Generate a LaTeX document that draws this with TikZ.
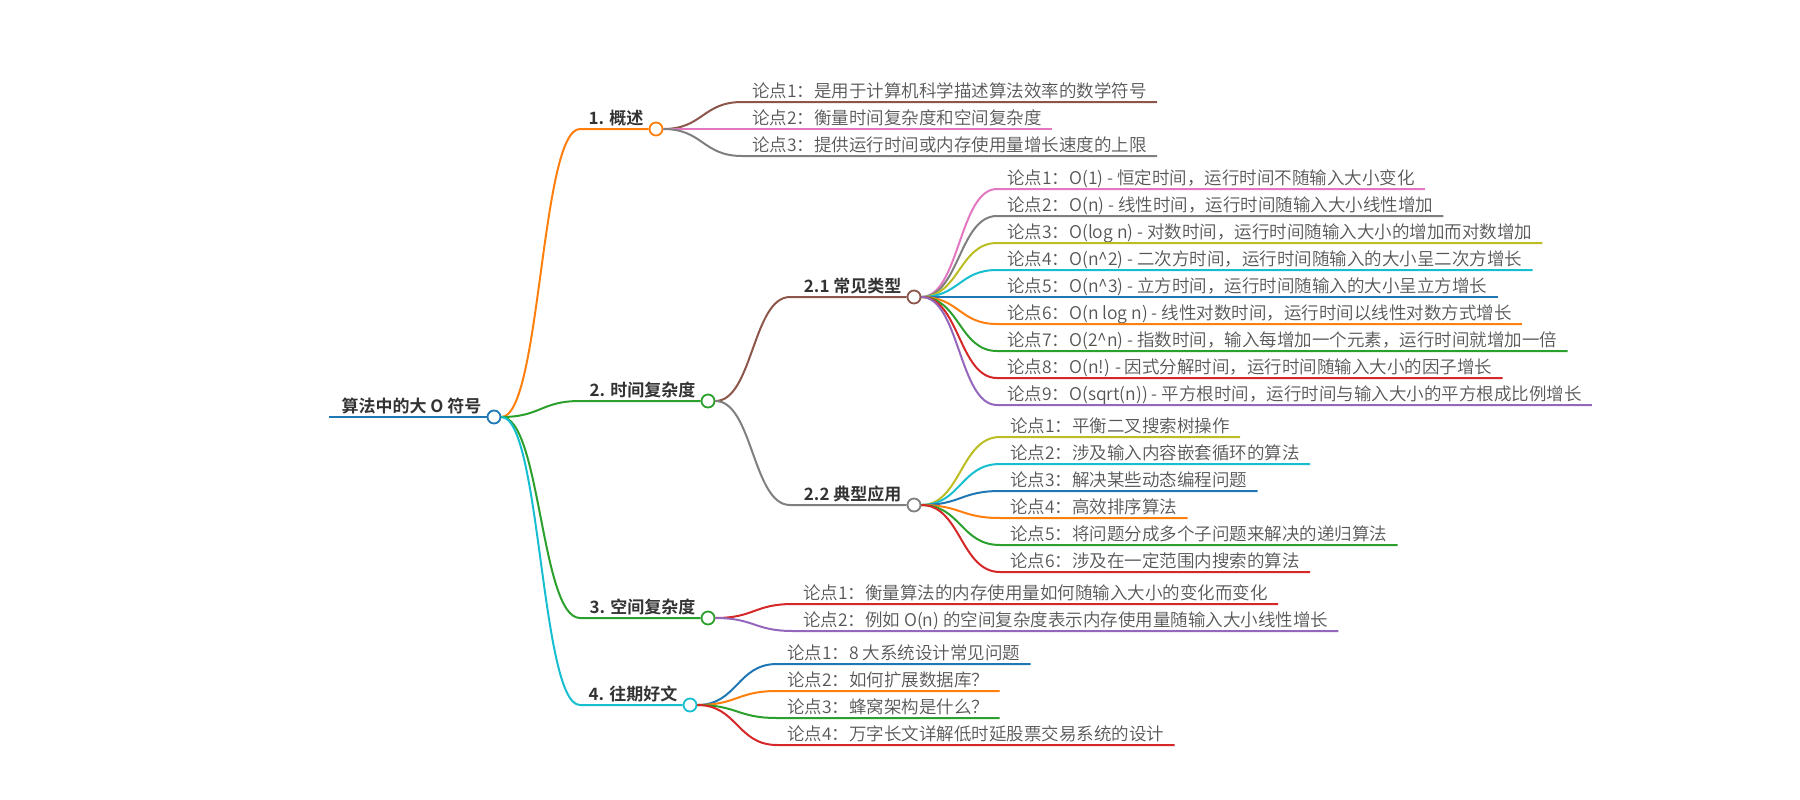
\documentclass[tikz,border=0pt]{standalone}
\usepackage{fontspec}
\setmainfont{Noto Sans CJK SC DemiLight}[BoldFont={Noto Sans CJK SC Bold}]
\usepackage{xcolor}
\usepackage{tikz}
\usetikzlibrary{calc}
\definecolor{cblue}{HTML}{1F77B4}
\definecolor{corange}{HTML}{FF7F0E}
\definecolor{cgreen}{HTML}{2CA02C}
\definecolor{cred}{HTML}{D62728}
\definecolor{cpurple}{HTML}{9467BD}
\definecolor{cbrown}{HTML}{8C564B}
\definecolor{cpink}{HTML}{E377C2}
\definecolor{cgray}{HTML}{7F7F7F}
\definecolor{colive}{HTML}{BCBD22}
\definecolor{ccyan}{HTML}{17BECF}
\definecolor{textdark}{HTML}{333333}
\definecolor{textgray}{HTML}{555555}
\tikzset{
    every node/.style={font=\fontsize{17.5}{20}\selectfont},
    dot/.style={circle, draw=#1, fill=white, line width=1.8pt, minimum size=13pt, inner sep=0pt},
    topic/.style={anchor=south east, inner xsep=5pt, inner ysep=1pt, text depth=3pt, text=textdark, font=\fontsize{17}{20}\selectfont\bfseries},
    leaf/.style={anchor=south west, inner xsep=10pt, inner ysep=1pt, text depth=3pt, text=textgray},
    wire/.style={draw=#1, line width=2pt},
    link/.style={to path={let \p1=(\tikztostart), \p2=(\tikztotarget), \n1={(\x2-\x1)/2} in .. controls +(\n1,0) and +(-\n1,0) .. (\tikztotarget)}}
}

\begin{document}
\begin{tikzpicture}[x=1pt, y=-1pt]
    \useasboundingbox (0,0) rectangle (1800,800);

    % Root
    \node[dot=cblue] (root) at (494,417) {};
    \node[topic] (roott) at (root.west) {算法中的大 O 符号};
    \coordinate (root-in) at (329,417);
    \draw[wire=cblue, line width=2.5pt] (root-in) -- (root);

    % Main branches
    \node[dot=corange] (b1) at (656,129) {};
    \node[dot=cgreen] (b2) at (708,401) {};
    \node[dot=cgreen] (b3) at (708,618) {};
    \node[dot=ccyan] (b4) at (690,705) {};
    \node[topic] (b1t) at (b1.west) {1. 概述};
    \node[topic] (b2t) at (b2.west) {2. 时间复杂度};
    \node[topic] (b3t) at (b3.west) {3. 空间复杂度};
    \node[topic] (b4t) at (b4.west) {4. 往期好文};
    \foreach \b/\y/\c in {1/129/corange, 2/401/cgreen, 3/618/cgreen, 4/705/ccyan} {
        \coordinate (b\b-in) at (580,\y);
        \draw[wire=\c] (root.east) to[link] (b\b-in) -- (b\b);
    }

    % Sub branches of 2
    \node[dot=cbrown] (c21) at (914,297) {};
    \node[dot=cgray] (c22) at (914,505) {};
    \node[topic] (c21t) at (c21.west) {2.1 常见类型};
    \node[topic] (c22t) at (c22.west) {2.2 典型应用};
    \coordinate (c21-in) at (790,297);
    \coordinate (c22-in) at (790,505);
    \draw[wire=cbrown] (b2.east) to[link] (c21-in) -- (c21);
    \draw[wire=cgray] (b2.east) to[link] (c22-in) -- (c22);

    % Leaves of 1
    \foreach \c/\t [count=\i] in {
        cbrown/论点1：是用于计算机科学描述算法效率的数学符号,
        cpink/论点2：衡量时间复杂度和空间复杂度,
        cgray/论点3：提供运行时间或内存使用量增长速度的上限} {
        \node[leaf] (k1-\i) at (742,{129+27*(\i-2)}) {\t};
        \draw[wire=\c] (b1.east) to[link] (k1-\i.south west) -- (k1-\i.south east);
    }

    % Leaves of 2.1
    \foreach \c/\t [count=\i] in {
        cpink/论点1：O(1) - 恒定时间，运行时间不随输入大小变化,
        cgray/论点2：O(n) - 线性时间，运行时间随输入大小线性增加,
        colive/论点3：O(log n) - 对数时间，运行时间随输入大小的增加而对数增加,
        ccyan/论点4：O(n\textasciicircum2) - 二次方时间，运行时间随输入的大小呈二次方增长,
        cblue/论点5：O(n\textasciicircum3) - 立方时间，运行时间随输入的大小呈立方增长,
        corange/论点6：O(n log n) - 线性对数时间，运行时间以线性对数方式增长,
        cgreen/论点7：O(2\textasciicircum n) - 指数时间，输入每增加一个元素，运行时间就增加一倍,
        cred/论点8：O(n!) - 因式分解时间，运行时间随输入大小的因子增长,
        cpurple/论点9：O(sqrt(n)) - 平方根时间，运行时间与输入大小的平方根成比例增长} {
        \node[leaf] (k21-\i) at (997,{297+27*(\i-5)}) {\t};
        \draw[wire=\c] (c21.east) to[link] (k21-\i.south west) -- (k21-\i.south east);
    }

    % Leaves of 2.2
    \foreach \c/\t [count=\i] in {
        colive/论点1：平衡二叉搜索树操作,
        ccyan/论点2：涉及输入内容嵌套循环的算法,
        cblue/论点3：解决某些动态编程问题,
        corange/论点4：高效排序算法,
        cgreen/论点5：将问题分成多个子问题来解决的递归算法,
        cred/论点6：涉及在一定范围内搜索的算法} {
        \node[leaf] (k22-\i) at (1000,{437+27*(\i-1)}) {\t};
        \draw[wire=\c] (c22.east) to[link] (k22-\i.south west) -- (k22-\i.south east);
    }

    % Leaves of 3
    \foreach \c/\t [count=\i] in {
        cred/论点1：衡量算法的内存使用量如何随输入大小的变化而变化,
        cpurple/论点2：例如 O(n) 的空间复杂度表示内存使用量随输入大小线性增长} {
        \node[leaf] (k3-\i) at (793,{604+27*(\i-1)}) {\t};
        \draw[wire=\c] (b3.east) to[link] (k3-\i.south west) -- (k3-\i.south east);
    }

    % Leaves of 4
    \foreach \c/\t [count=\i] in {
        cblue/论点1：8 大系统设计常见问题,
        corange/论点2：如何扩展数据库？,
        cgreen/论点3：蜂窝架构是什么？,
        cred/论点4：万字长文详解低时延股票交易系统的设计} {
        \node[leaf] (k4-\i) at (777,{664+27*(\i-1)}) {\t};
        \draw[wire=\c] (b4.east) to[link] (k4-\i.south west) -- (k4-\i.south east);
    }
\end{tikzpicture}
\end{document}
